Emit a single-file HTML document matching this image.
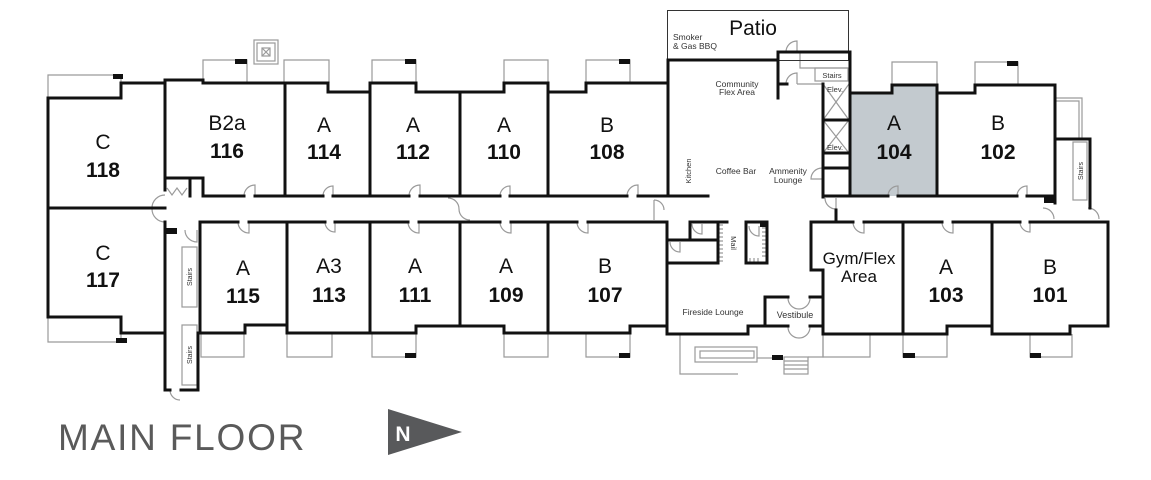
<!DOCTYPE html>
<html><head><meta charset="utf-8"><style>
html,body{margin:0;padding:0;background:#fff;}
svg{display:block;}
text{font-family:"Liberation Sans",sans-serif;}
</style></head><body>
<svg width="1151" height="480" viewBox="0 0 1151 480" xmlns="http://www.w3.org/2000/svg">
<rect width="1151" height="480" fill="#fff"/>
<path d="M850,93 L892,93 L892,85 L937,85 L937,196 L850,196 Z" fill="#c3cacf"/>

<g fill="none" stroke="#9a9a9a" stroke-width="1.2">
<path d="M48,98 L48,75 L121,75 L121,83"/>
<path d="M48,317 L48,342 L121,342 L121,333"/>
<path d="M203,80 L203,60 L247,60 L247,83"/>
<rect x="254" y="40" width="24" height="24"/>
<rect x="257" y="43" width="18" height="18"/>
<rect x="262" y="48" width="8" height="8"/>
<path d="M262,48 L270,56 M270,48 L262,56"/>
<path d="M284,83 L284,60 L329,60 L329,83"/>
<path d="M372,83 L372,60 L416,60 L416,83"/>
<path d="M504,83 L504,60 L548,60 L548,83"/>
<path d="M586,83 L586,60 L630,60 L630,83"/>
<path d="M892,85 L892,62 L937,62 L937,85"/>
<path d="M975,85 L975,62 L1018,62 L1018,85"/>
<path d="M1055,98 L1082,98 L1082,139 M1055,101 L1079,101 L1079,139"/>
<rect x="1073" y="142" width="14" height="58"/>
<rect x="182" y="247" width="15" height="60"/>
<rect x="182" y="325" width="15" height="60"/>
<path d="M201,333 L201,357 L244,357 L244,333"/>
<path d="M287,333 L287,357 L332,357 L332,333"/>
<path d="M372,333 L372,357 L416,357 L416,333"/>
<path d="M504,333 L504,357 L548,357 L548,333"/>
<path d="M586,333 L586,357 L630,357 L630,333"/>
<path d="M823,334 L823,357 L870,357 L870,334"/>
<path d="M903,334 L903,357 L947,357 L947,334"/>
<path d="M1030,334 L1030,357 L1072,357 L1072,334"/>
<path d="M680,334 L680,374 L738,374"/>
<rect x="695" y="347" width="62" height="15"/>
<rect x="700" y="351" width="54" height="7"/>
<path d="M757,358 L772,358"/>
<rect x="784" y="357" width="24" height="17"/>
<path d="M784,361 L808,361 M784,365 L808,365 M784,369 L808,369"/>
<path d="M808,357 L823,357 L823,326"/>
<path d="M797,84 L823,84 M800,52 L800,68 L848,68"/>
<rect x="815" y="68" width="33" height="13"/>
<path d="M823,84 L849,120 M849,84 L823,120 M823,120 L849,153 M849,120 L823,153"/>
<path d="M719,225 L723,225 M719,229 L723,229 M719,233 L723,233 M719,237 L723,237 M719,241 L723,241 M719,245 L723,245 M719,249 L723,249 M719,253 L723,253 M719,257 L723,257 M719,261 L723,261"/>
<path d="M762,228 L767,228 M762,232 L767,232 M762,236 L767,236 M762,240 L767,240 M762,244 L767,244 M762,248 L767,248 M762,252 L767,252 M762,256 L767,256 M750,258 L750,263 M754,258 L754,263 M758,258 L758,263"/>
<path d="M244,196 A11,11 0 0 1 255,185 L255,196"/>
<path d="M323,196 A10,10 0 0 1 333,186 L333,196"/>
<path d="M409,196 A11,11 0 0 1 420,185 L420,196"/>
<path d="M500,196 A10,10 0 0 1 510,186 L510,196"/>
<path d="M627,196 A11,11 0 0 1 638,185 L638,196"/>
<path d="M888,196 A10,10 0 0 1 898,186 L898,196"/>
<path d="M1017,196 A10,10 0 0 1 1027,186 L1027,196"/>
<path d="M238,222 A11,11 0 0 0 249,233 L249,222"/>
<path d="M325,222 A10,10 0 0 0 335,232 L335,222"/>
<path d="M408,222 A11,11 0 0 0 419,233 L419,222"/>
<path d="M500,222 A11,11 0 0 0 511,233 L511,222"/>
<path d="M577,222 A11,11 0 0 0 588,233 L588,222"/>
<path d="M853,222 A11,11 0 0 0 864,233 L864,222"/>
<path d="M942,222 A11,11 0 0 0 953,233 L953,222"/>
<path d="M1020,222 A10,10 0 0 0 1030,232 L1030,222"/>
<path d="M165,195 A13,13 0 0 0 152,208 M165,222 A13,13 0 0 1 152,209"/>
<path d="M185,230 A12,12 0 0 0 197,242 L197,230"/>
<path d="M170,390 A10,10 0 0 0 180,400"/>
<path d="M448,198 A11,11 0 0 1 459,209 M459,209 A11,11 0 0 0 470,220"/>
<path d="M654,200 L654,220 M654,200 A10,10 0 0 1 664,210"/>
<path d="M825,198 A11,11 0 0 0 836,209 L836,198"/>
<path d="M1043,208 A11,11 0 0 1 1054,219 M1088,208 A11,11 0 0 1 1099,219"/>
<path d="M786,52 A11,11 0 0 1 797,41 L797,52"/>
<path d="M786,84 A11,11 0 0 1 797,73 L797,84"/>
<path d="M822,168 A11,11 0 0 0 811,179 L822,179"/>
<path d="M692,224 A10,10 0 0 0 702,234 L702,224"/>
<path d="M670,242 A10,10 0 0 0 680,252 L680,242"/>
<path d="M749,226 A10,10 0 0 0 759,236 L759,226"/>
<path d="M788,298 A11,11 0 0 0 799,309 M810,298 A11,11 0 0 1 799,309"/>
<path d="M788,327 A11,11 0 0 0 799,338 M810,327 A11,11 0 0 1 799,338"/>
<path d="M167,188 L172,195 L177,188 L182,195 L187,188"/>
</g>

<rect x="667.5" y="10.5" width="181" height="50" fill="none" stroke="#333" stroke-width="1"/>

<g fill="none" stroke="#111" stroke-width="3" stroke-linecap="square">
<path d="M48,98 L121,98 L121,83 L165,83"/>
<path d="M165,80 L203,80 L203,83 L328,83 L328,92 L370,92 L370,83 L416,83 L416,92 L504,92 L504,83 L548,83 L548,92 L586,92 L586,83 L668,83"/>
<path d="M668,60 L778,60"/>
<path d="M48,98 L48,317"/>
<path d="M48,208 L165,208"/>
<path d="M165,80 L165,190"/>
<path d="M165,178 L203,178 L203,196 M190,178 L190,196"/>
<path d="M203,196 L244,196 M255,196 L323,196 M333,196 L409,196 M420,196 L500,196 M510,196 L627,196 M638,196 L708,196"/>
<path d="M285,83 L285,196 M370,83 L370,196 M460,92 L460,196 M548,92 L548,196 M668,60 L668,196"/>
<path d="M200,222 L238,222 M249,222 L325,222 M335,222 L408,222 M419,222 L500,222 M511,222 L577,222 M588,222 L667,222"/>
<path d="M165,222 L165,390"/>
<path d="M200,222 L200,333"/>
<path d="M198,333 L198,390 M165,390 L170,390 M181,390 L198,390"/>
<path d="M48,317 L121,317 L121,333 L165,333"/>
<path d="M200,333 L245,333 L245,325 L287,325"/>
<path d="M287,222 L287,333 L416,333 L416,326 L504,326 L504,333 L630,333 L630,326 L667,326"/>
<path d="M370,222 L370,333 M460,222 L460,326 M548,222 L548,333"/>
<path d="M667,222 L667,334 L748,334 L748,326 L765,326 L765,297 L788,297 M810,297 L823,297 M765,326 L788,326 M810,326 L823,326"/>
<path d="M690,222 L727,222 M718,222 L718,263 L667,263 M667,240 L718,240 M690,222 L690,240"/>
<path d="M746,263 L746,222 L767,222 L767,263 Z"/>
<path d="M811,222 L811,270 L823,270 L823,334 L947,334 L947,326 L992,326 L992,334 L1070,334 L1070,326 L1108,326 L1108,222"/>
<path d="M811,222 L853,222 M864,222 L942,222 M953,222 L1020,222 M1030,222 L1108,222"/>
<path d="M903,222 L903,334 M992,222 L992,326"/>
<path d="M850,52 L850,196"/>
<path d="M850,93 L892,93 L892,85 L937,85 L937,93 L975,93 L975,85 L1055,85 L1055,203"/>
<path d="M937,85 L937,196"/>
<path d="M823,196 L850,196 M850,196 L888,196 M898,196 L1017,196 M1027,196 L1055,196"/>
<path d="M1055,139 L1090,139 L1090,208"/>
<path d="M823,84 L823,197 M778,84 L787,84 M778,52 L850,52 M778,52 L778,98"/>
<path d="M823,120 L850,120 M823,153 L850,153 M823,168 L850,168"/>
<path d="M836,210 L836,222"/>
</g>

<g fill="#111">
<rect x="113" y="74" width="10" height="5"/>
<rect x="116" y="338" width="11" height="5"/>
<rect x="235" y="59" width="12" height="5"/>
<rect x="405" y="59" width="11" height="5"/>
<rect x="619" y="59" width="11" height="5"/>
<rect x="1007" y="61" width="11" height="5"/>
<rect x="405" y="353" width="11" height="5"/>
<rect x="619" y="353" width="11" height="5"/>
<rect x="903" y="353" width="12" height="5"/>
<rect x="1030" y="353" width="11" height="5"/>
<rect x="772" y="355" width="11" height="5"/>
<rect x="165" y="228" width="12" height="6"/>
<rect x="1044" y="196" width="11" height="7"/>
<rect x="760" y="222" width="7" height="5"/>
</g>

<g fill="#111" font-size="21" text-anchor="middle">
<text x="103" y="149">C</text><text x="103" y="177" font-weight="bold">118</text>
<text x="103" y="260">C</text><text x="103" y="287" font-weight="bold">117</text>
<text x="227" y="130">B2a</text><text x="227" y="158" font-weight="bold">116</text>
<text x="324" y="132">A</text><text x="324" y="159" font-weight="bold">114</text>
<text x="413" y="132">A</text><text x="413" y="159" font-weight="bold">112</text>
<text x="504" y="132">A</text><text x="504" y="159" font-weight="bold">110</text>
<text x="607" y="132">B</text><text x="607" y="159" font-weight="bold">108</text>
<text x="894" y="130">A</text><text x="894" y="159" font-weight="bold">104</text>
<text x="998" y="130">B</text><text x="998" y="159" font-weight="bold">102</text>
<text x="243" y="275">A</text><text x="243" y="303" font-weight="bold">115</text>
<text x="329" y="273">A3</text><text x="329" y="302" font-weight="bold">113</text>
<text x="415" y="273">A</text><text x="415" y="302" font-weight="bold">111</text>
<text x="506" y="273">A</text><text x="506" y="302" font-weight="bold">109</text>
<text x="605" y="273">B</text><text x="605" y="302" font-weight="bold">107</text>
<text x="946" y="274">A</text><text x="946" y="302" font-weight="bold">103</text>
<text x="1050" y="274">B</text><text x="1050" y="302" font-weight="bold">101</text>
</g>
<g fill="#111" font-size="17" text-anchor="middle">
<text x="859" y="264">Gym/Flex</text>
<text x="859" y="282">Area</text>
</g>
<text x="753" y="35" font-size="21" fill="#111" text-anchor="middle">Patio</text>

<g fill="#333" font-size="8.5">
<text x="673" y="40">Smoker</text>
<text x="673" y="49">&amp; Gas BBQ</text>
<text x="737" y="87" text-anchor="middle">Community</text>
<text x="737" y="95" text-anchor="middle">Flex Area</text>
<text x="736" y="174" text-anchor="middle">Coffee Bar</text>
<text x="788" y="174" text-anchor="middle">Ammenity</text>
<text x="788" y="183" text-anchor="middle">Lounge</text>
<text x="713" y="315" text-anchor="middle">Fireside Lounge</text>
<text x="795" y="318" text-anchor="middle" font-size="9">Vestibule</text>
<text x="832" y="78" text-anchor="middle" font-size="7.5">Stairs</text>
<text x="827" y="92" font-size="7.5">Elev.</text>
<text x="827" y="150" font-size="7.5">Elev.</text>
<text transform="translate(691,171) rotate(-90)" text-anchor="middle" font-size="7.5">Kitchen</text>
<text transform="translate(731,243) rotate(90)" text-anchor="middle" font-size="7.5">Mail</text>
<text transform="translate(192,277) rotate(-90)" text-anchor="middle" font-size="7">Stairs</text>
<text transform="translate(192,355) rotate(-90)" text-anchor="middle" font-size="7">Stairs</text>
<text transform="translate(1083,171) rotate(-90)" text-anchor="middle" font-size="7">Stairs</text>
</g>

<text x="58" y="450" font-size="37" fill="#5a5a5a" letter-spacing="1.8">MAIN FLOOR</text>
<polygon points="388,409 462,432 388,455" fill="#58595b"/>
<text x="403" y="441" font-size="21" font-weight="bold" fill="#fff" text-anchor="middle">N</text>
</svg>
</body></html>
